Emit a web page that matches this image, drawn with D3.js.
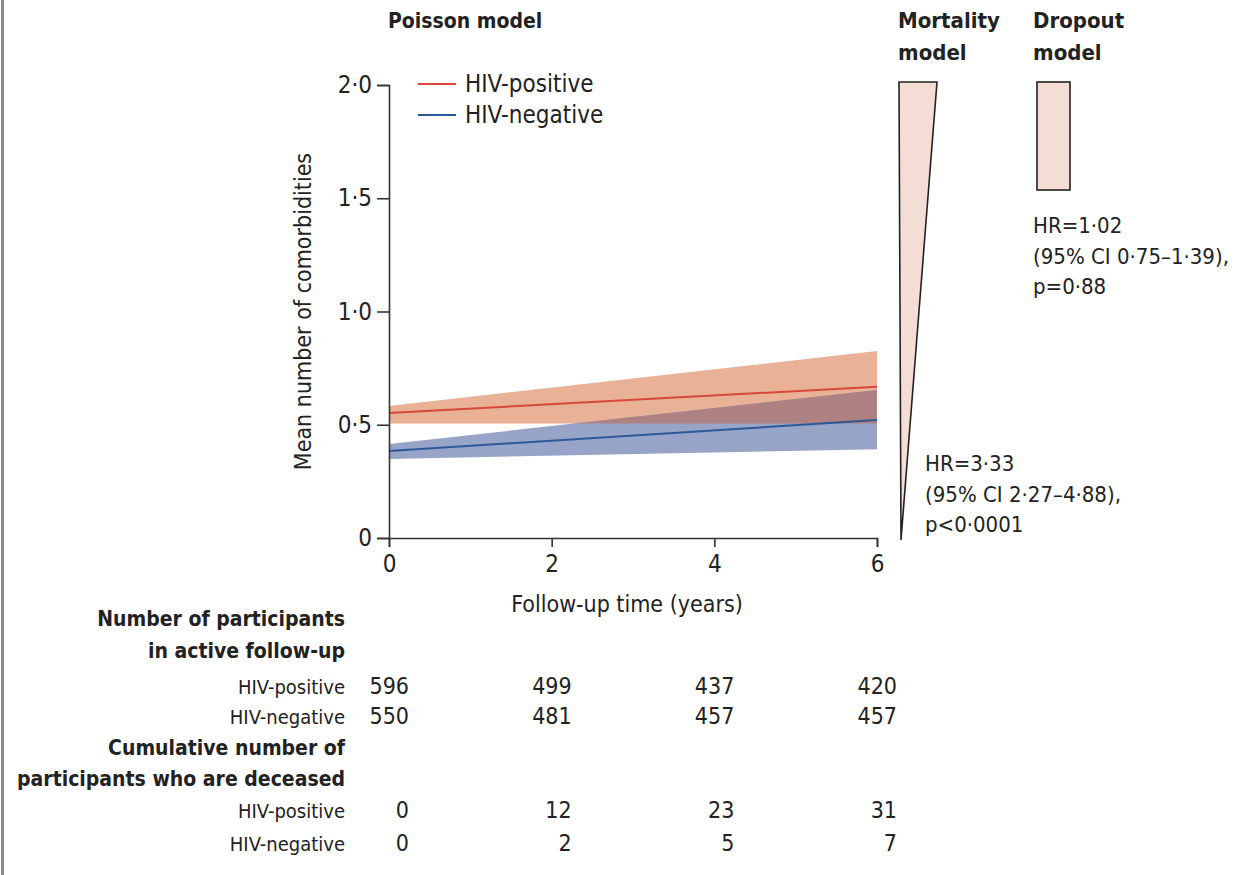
<!DOCTYPE html>
<meta charset="utf-8" />
<script src="https://d3js.org/d3.v7.min.js"></script>
<style>
  body { margin: 0; background: #fff; }
  text { font-family: "DejaVu Sans Condensed", "DejaVu Sans", sans-serif; fill: #222; }
</style>
<body>
<div id="chart"></div>
<script>
  // data
  const years = [0, 6];
  const posMean = [0.552, 0.668];
  const posLow = [0.506, 0.506];
  const posHigh = [0.583, 0.826];
  const negMean = [0.384, 0.521];
  const negLow = [0.349, 0.392];
  const negHigh = [0.415, 0.653];

  const yTicks = [0, 0.5, 1.0, 1.5, 2.0];
  const xTicks = [0, 2, 4, 6];
  const tableYears = [0, 2, 4, 6];
  const activePos = [596, 499, 437, 420];
  const activeNeg = [550, 481, 457, 457];
  const deadPos = [0, 12, 23, 31];
  const deadNeg = [0, 2, 5, 7];

  const width = 1234, height = 875;
  const svg = d3.select("#chart").append("svg")
    .attr("width", width).attr("height", height);

  // grey page edge on the left
  svg.append("rect").attr("x", 1).attr("y", 0).attr("width", 3).attr("height", height).attr("fill", "#8a8a8a");

  const x = d3.scaleLinear().domain([0, 6]).range([389, 877]);
  const y = d3.scaleLinear().domain([0, 2]).range([538, 85]);

  const fmt = d => d === 0 ? "0" : d3.format(".1f")(d).replace(".", "·");

  // bands
  const posBand = years.map((t, i) => ({ t, lo: posLow[i], hi: posHigh[i] }));
  const negBand = years.map((t, i) => ({ t, lo: negLow[i], hi: negHigh[i] }));
  const area = d3.area().x(d => x(d.t)).y0(d => y(d.lo)).y1(d => y(d.hi));

  svg.append("clipPath").attr("id", "posClip").append("path").attr("d", area(posBand));

  svg.append("path").attr("d", area(posBand)).attr("fill", "#e9b196");
  svg.append("path").attr("d", area(negBand)).attr("fill", "#97a4c8");
  // overlap of the two bands
  svg.append("path").attr("d", area(negBand)).attr("fill", "#ae8282").attr("clip-path", "url(#posClip)");

  const line = d3.line().x(d => x(d.t)).y(d => y(d.v));
  svg.append("path").datum(years.map((t, i) => ({ t, v: posMean[i] })))
    .attr("d", line).attr("fill", "none").attr("stroke", "#d8493b").attr("stroke-width", 2);
  svg.append("path").datum(years.map((t, i) => ({ t, v: negMean[i] })))
    .attr("d", line).attr("fill", "none").attr("stroke", "#2d5897").attr("stroke-width", 2);

  // axes
  const yAxis = svg.append("g").attr("transform", `translate(${x(0)},0)`)
    .call(d3.axisLeft(y).tickValues(yTicks).tickFormat(fmt).tickSize(12).tickPadding(5));
  const xAxis = svg.append("g").attr("transform", `translate(0,${y(0)})`)
    .call(d3.axisBottom(x).tickValues(xTicks).tickFormat(d3.format("d")).tickSize(9).tickPadding(8));
  [yAxis, xAxis].forEach(g => {
    g.select(".domain").attr("stroke", "#333").attr("stroke-width", 1.6);
    g.selectAll(".tick line").attr("stroke", "#333").attr("stroke-width", 1.6);
    g.selectAll("text").style("font-size", "24px").attr("fill", "#222")
      .style("font-family", '"DejaVu Sans Condensed", sans-serif');
  });

  svg.append("text").attr("transform", `translate(311,${y(1)}) rotate(-90)`)
    .attr("text-anchor", "middle").style("font-size", "23px").text("Mean number of comorbidities");
  svg.append("text").attr("x", 627).attr("y", 612)
    .attr("text-anchor", "middle").style("font-size", "23px").text("Follow-up time (years)");

  // legend
  const legend = [["HIV-positive", "#d8493b"], ["HIV-negative", "#2d5897"]];
  legend.forEach((d, i) => {
    const ly = 84 + i * 31;
    svg.append("line").attr("x1", 418).attr("x2", 456).attr("y1", ly).attr("y2", ly)
      .attr("stroke", d[1]).attr("stroke-width", 2);
    svg.append("text").attr("x", 465).attr("y", ly + 8).style("font-size", "24px").text(d[0]);
  });

  // headings
  const bold = (tx, ty, s, fs) => svg.append("text").attr("x", tx).attr("y", ty)
    .style("font-size", (fs || 22) + "px").style("font-weight", "bold").text(s);
  bold(388, 28, "Poisson model", 21);
  bold(898, 28, "Mortality");
  bold(898, 60, "model");
  bold(1033, 28, "Dropout");
  bold(1033, 60, "model");

  // mortality wedge and dropout box
  svg.append("path")
    .attr("d", `M899,82 L937,82 L901,540 Z`)
    .attr("fill", "#f3ddd5").attr("stroke", "#222").attr("stroke-width", 1.6);
  svg.append("rect").attr("x", 1037).attr("y", 82).attr("width", 33).attr("height", 108)
    .attr("fill", "#f3ddd5").attr("stroke", "#222").attr("stroke-width", 1.6);

  const plain = (tx, ty, s) => svg.append("text").attr("x", tx).attr("y", ty)
    .style("font-size", "22px").text(s);
  plain(1033, 233, "HR=1·02");
  plain(1033, 264, "(95% CI 0·75–1·39),");
  plain(1033, 294, "p=0·88");
  plain(925, 471, "HR=3·33");
  plain(925, 502, "(95% CI 2·27–4·88),");
  plain(925, 532, "p<0·0001");

  // risk table
  const labelX = 345;
  const rowText = (ty, s, b) => svg.append("text").attr("x", labelX).attr("y", ty)
    .attr("text-anchor", "end").style("font-size", b ? "21px" : "20px")
    .style("font-weight", b ? "bold" : "normal").text(s);
  rowText(626, "Number of participants", true);
  rowText(658, "in active follow-up", true);
  rowText(755, "Cumulative number of", true);
  rowText(786, "participants who are deceased", true);

  const rows = [
    ["HIV-positive", activePos, 694],
    ["HIV-negative", activeNeg, 724],
    ["HIV-positive", deadPos, 818],
    ["HIV-negative", deadNeg, 851]
  ];
  rows.forEach(r => {
    rowText(r[2], r[0], false);
    svg.append("g").selectAll("text").data(r[1]).join("text")
      .attr("x", (d, i) => x(tableYears[i]) + 20).attr("y", r[2])
      .attr("text-anchor", "end").style("font-size", "23px").text(d => d);
  });
</script>
</body>
